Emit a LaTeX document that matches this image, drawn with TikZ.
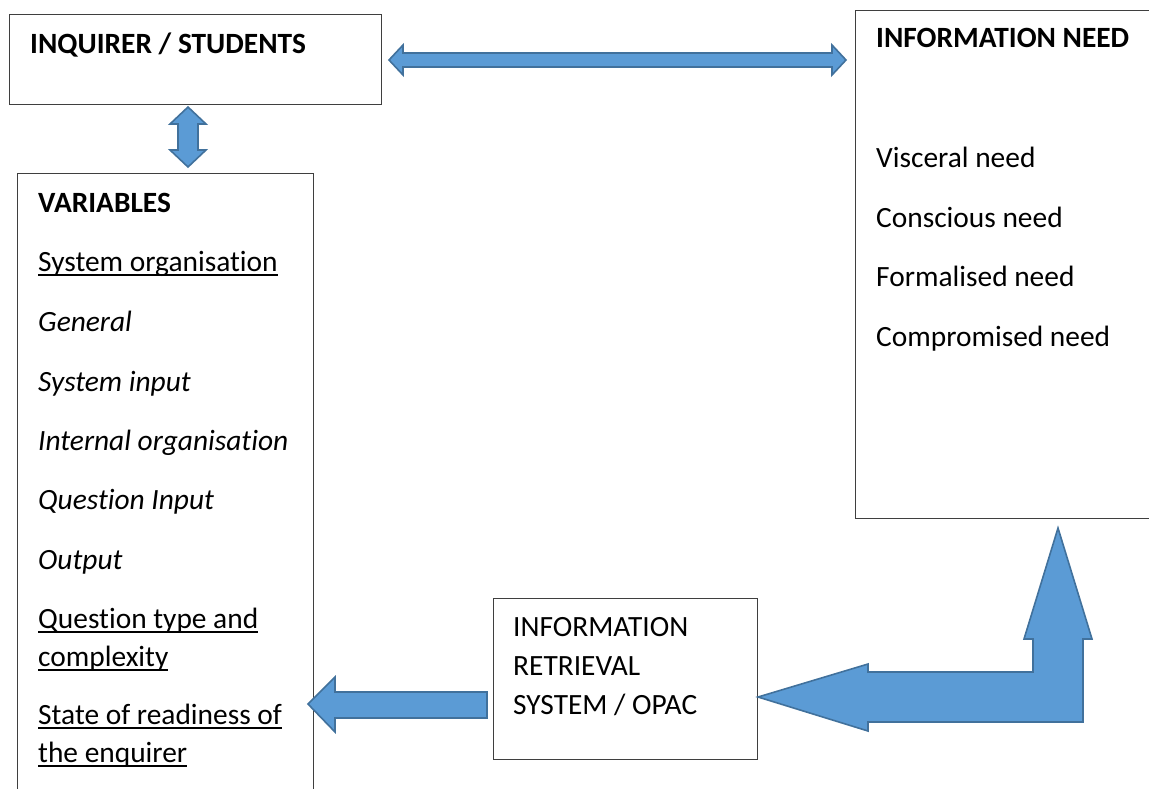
\documentclass[tikz,border=0pt]{standalone}
\usepackage{fontspec}
\setmainfont[Ligatures=NoCommon]{Carlito}
% underline drawn at a fixed depth below the baseline
\newcommand\undertext[1]{\setbox0=\hbox{#1}\rlap{\copy0}\rule[-4.5pt]{\wd0}{2pt}}
\definecolor{arrowfill}{HTML}{5B9BD5}
\definecolor{arrowline}{HTML}{41719C}
\definecolor{boxline}{HTML}{3F3F3F}
\begin{document}
\begin{tikzpicture}[x=1pt,y=-1pt,
  box/.style={draw=boxline, line width=1.3pt, fill=white, inner sep=0pt, anchor=north west},
  txt/.style={anchor=base west, inner sep=0pt, font=\fontsize{29.4}{35}\selectfont},
  head/.style={txt, font=\fontsize{29.4}{35}\selectfont\bfseries},
  blockarrow/.style={fill=arrowfill, draw=arrowline, line width=1.6pt, line join=miter}]
\useasboundingbox (0,0) rectangle (1149,788);

% boxes
\node[box, minimum width=372pt, minimum height=90pt]  (inq)  at (9,14)   {};
\node[box, minimum width=300pt, minimum height=508pt] (need) at (855,10) {};
\node[box, minimum width=296pt, minimum height=625pt] (vars) at (17,173) {};
\node[box, minimum width=264pt, minimum height=161pt] (irs)  at (493,598) {};

% inquirer
\node[head] (inqT) at (30,53) {INQUIRER / STUDENTS};

% information need
\node[head] (needT) at (876,47) {INFORMATION NEED};
\node[txt] (n1) at (876,167) {Visceral need};
\node[txt] (n2) at (876,227) {Conscious need};
\node[txt] (n3) at (876,286) {Formalised need};
\node[txt] (n4) at (876,346) {Compromised need};

% variables
\node[head] (varT) at (38,212) {VARIABLES};
\node[txt] (v1)  at (38,271) {\undertext{System organisation}};
\node[txt] (v2)  at (38,331) {\itshape General};
\node[txt] (v3)  at (38,391) {\itshape System input};
\node[txt] (v4)  at (38,450) {\itshape Internal organisation};
\node[txt] (v5)  at (38,509) {\itshape Question Input};
\node[txt] (v6)  at (38,569) {\itshape Output};
\node[txt] (v7)  at (38,628) {\undertext{Question type and}};
\node[txt] (v7b) at (38,666) {\undertext{complexity}};
\node[txt] (v8)  at (38,724) {\undertext{State of readiness of}};
\node[txt] (v8b) at (38,762) {\undertext{the enquirer}};

% retrieval system
\node[txt] (r1) at (513,636) {INFORMATION};
\node[txt] (r2) at (513,675) {RETRIEVAL};
\node[txt] (r3) at (513,714) {SYSTEM / OPAC};

% inquirer <-> information need
\draw[blockarrow] (389,60) -- (403,45) -- (403,53) -- (832,53) -- (832,45) -- (846,60)
  -- (832,75) -- (832,67) -- (403,67) -- (403,75) -- cycle;

% inquirer <-> variables
\draw[blockarrow] (188,107) -- (206,124) -- (198,124) -- (198,150) -- (206,150) -- (188,167)
  -- (170,150) -- (178,150) -- (178,124) -- (170,124) -- cycle;

% retrieval system -> variables
\draw[blockarrow] (308,704) -- (335,677) -- (335,692) -- (487,692) -- (487,718)
  -- (335,718) -- (335,732) -- cycle;

% bent arrow between retrieval system and information need
\draw[blockarrow] (758,697) -- (868,664) -- (868,672) -- (1033,672) -- (1033,639)
  -- (1024,639) -- (1058,528) -- (1092,639) -- (1083,639) -- (1083,722)
  -- (868,722) -- (868,731) -- cycle;
\end{tikzpicture}
\end{document}
